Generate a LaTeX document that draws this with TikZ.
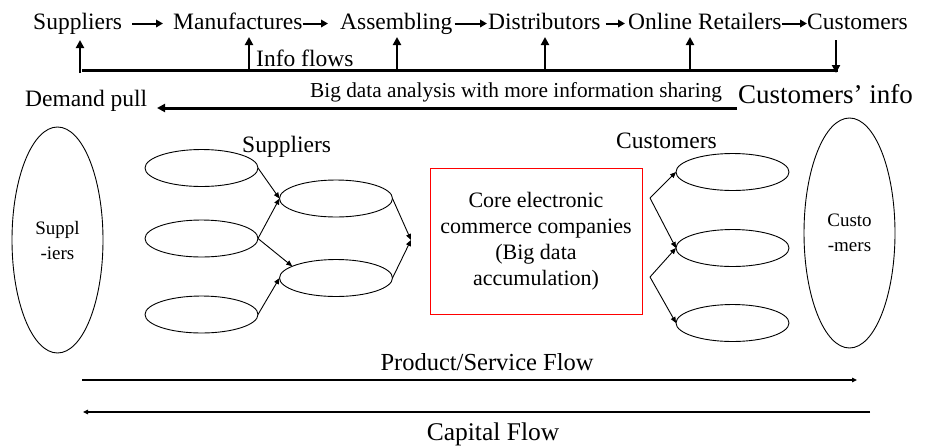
\documentclass[tikz,border=0pt]{standalone}
\usepackage{fontspec}
\setmainfont{Liberation Serif}
\usetikzlibrary{shapes.geometric,arrows.meta}
\begin{document}
\begin{tikzpicture}[x=1pt,y=-1pt,
  toptext/.style={font=\fontsize{23.5}{26}\selectfont, inner sep=0pt, anchor=base west, text height=16pt, text depth=5pt},
  thickarrow/.style={line width=2pt, -{Triangle[length=7pt,width=7.5pt]}},
  vertarrow/.style={line width=2.4pt, -{Triangle[length=8pt,width=8pt]}},
  smallell/.style={ellipse, draw, line width=0.9pt, minimum width=113pt, minimum height=37pt, inner sep=0pt, outer sep=0pt},
  bigell/.style={ellipse, draw, line width=0.9pt, minimum width=91pt, inner sep=0pt, outer sep=0pt, align=center, font=\fontsize{19}{25}\selectfont},
  thinarrow/.style={line width=0.9pt, -{Triangle[length=6pt,width=5pt]}},
  flowarrow/.style={line width=1.2pt, -{Triangle[length=5pt,width=4.5pt]}}
]
\useasboundingbox (0,0) rectangle (926,445);

% top row
\node[toptext] (t1) at (33,29) {Suppliers};
\node[toptext] (t2) at (173,29) {Manufactures};
\node[toptext] (t3) at (340,29) {Assembling};
\node[toptext] (t4) at (488,29) {Distributors};
\node[toptext] (t5) at (628,29) {Online Retailers};
\node[toptext] (t6) at (807,29) {Customers};

\begin{scope}[yshift=2.5pt]
\draw[thickarrow, shorten <=10pt, shorten >=10pt] (t1.east) -- (t2.west);
\draw[thickarrow, shorten <=0pt, shorten >=12pt] (t2.east) -- (t3.west);
\draw[thickarrow, shorten <=2pt, shorten >=1pt] (t3.east) -- (t4.west);
\draw[thickarrow, shorten <=5pt, shorten >=3pt] (t4.east) -- (t5.west);
\draw[thickarrow, shorten <=0pt, shorten >=0pt] (t5.east) -- (t6.west);
\end{scope}

% info line
\coordinate (b1) at (80,73);
\coordinate (b2) at (249,71);
\coordinate (b3) at (397,71);
\coordinate (b4) at (545,71);
\coordinate (b5) at (690,71);
\coordinate (b6) at (836,73);
\draw[line width=3pt] (82,70) coordinate (lineL) -- (838,70) coordinate (lineR);
\draw[vertarrow] (b1) -- (b1 |- 0,40);
\draw[vertarrow] (b2) -- (b2 |- 0,37);
\draw[vertarrow] (b3) -- (b3 |- 0,37);
\draw[vertarrow] (b4) -- (b4 |- 0,37);
\draw[vertarrow] (b5) -- (b5 |- 0,37);
\coordinate (c6) at (836,40);
\draw[vertarrow] (c6) -- (b6);

\node[toptext] (info) at (256,66) {Info flows};

% demand pull line
\node[toptext] (dp) at (25,106) {Demand pull};
\node[inner sep=0pt, anchor=base west, font=\fontsize{21.3}{24}\selectfont] (bd) at (310,97) {Big data analysis with more information sharing};
\node[inner sep=0pt, anchor=base west, font=\fontsize{27}{30}\selectfont] (ci) at (738,103) {Customers’ info};
\coordinate (dpr) at (737,108);
\coordinate (dpl) at (157,108);
\draw[line width=3pt, -{Triangle[length=8pt,width=8pt]}] (dpr) -- (dpl);

% middle
\node[bigell, minimum height=226pt] (BL) at (57.5,240) {Suppl\\-iers};
\node[bigell, minimum height=230pt] (BR) at (849.5,233) {Custo\\-mers};

\node[inner sep=0pt, anchor=base west, font=\fontsize{23.5}{26}\selectfont] (supl) at (242,152) {Suppliers};
\node[inner sep=0pt, anchor=base west, font=\fontsize{23.5}{26}\selectfont] (cusl) at (616,148) {Customers};

\node[smallell] (L1) at (201.5,168) {};
\node[smallell] (L2) at (201.5,238.5) {};
\node[smallell] (L3) at (201.5,314.5) {};
\node[smallell] (M1) at (336,198.5) {};
\node[smallell] (M2) at (336,278) {};
\node[smallell] (R1) at (732.5,172) {};
\node[smallell] (R2) at (732.5,248) {};
\node[smallell] (R3) at (732.5,323) {};

\coordinate (conv) at (411,240);
\coordinate (c1) at (650,198);
\coordinate (c2) at (650,277);

\draw[thinarrow] (L1.east) -- (M1.west);
\draw[thinarrow] (L2.east) -- (M1.west);
\draw[thinarrow] (L2.east) -- (M2.165);
\draw[thinarrow] (L3.east) -- (M2.west);
\draw[thinarrow] (M1.east) -- (conv);
\draw[thinarrow] (M2.east) -- (conv);
\draw[thinarrow] (c1) -- (R1.west);
\draw[thinarrow] (c1) -- (R2.west);
\draw[thinarrow] (c2) -- (R2.west);
\draw[thinarrow] (c2) -- (R3.west);

\node[draw=red, line width=0.9pt, minimum width=212pt, minimum height=146pt, inner sep=0pt, align=center, font=\fontsize{22}{26}\selectfont] (core) at (536,241) {Core electronic\\commerce companies\\(Big data\\accumulation)};

% bottom flows
\node[inner sep=0pt, anchor=base, font=\fontsize{24.5}{28}\selectfont] (psf) at (487,370) {Product/Service Flow};
\node[inner sep=0pt, anchor=base, font=\fontsize{25.5}{28}\selectfont] (cf) at (493,440) {Capital Flow};
\coordinate (p1) at (82,380);
\coordinate (p2) at (857,380);
\coordinate (q1) at (870,412);
\coordinate (q2) at (83,412);
\draw[flowarrow] (p1) -- (p2);
\draw[flowarrow] (q1) -- (q2);
\end{tikzpicture}
\end{document}
